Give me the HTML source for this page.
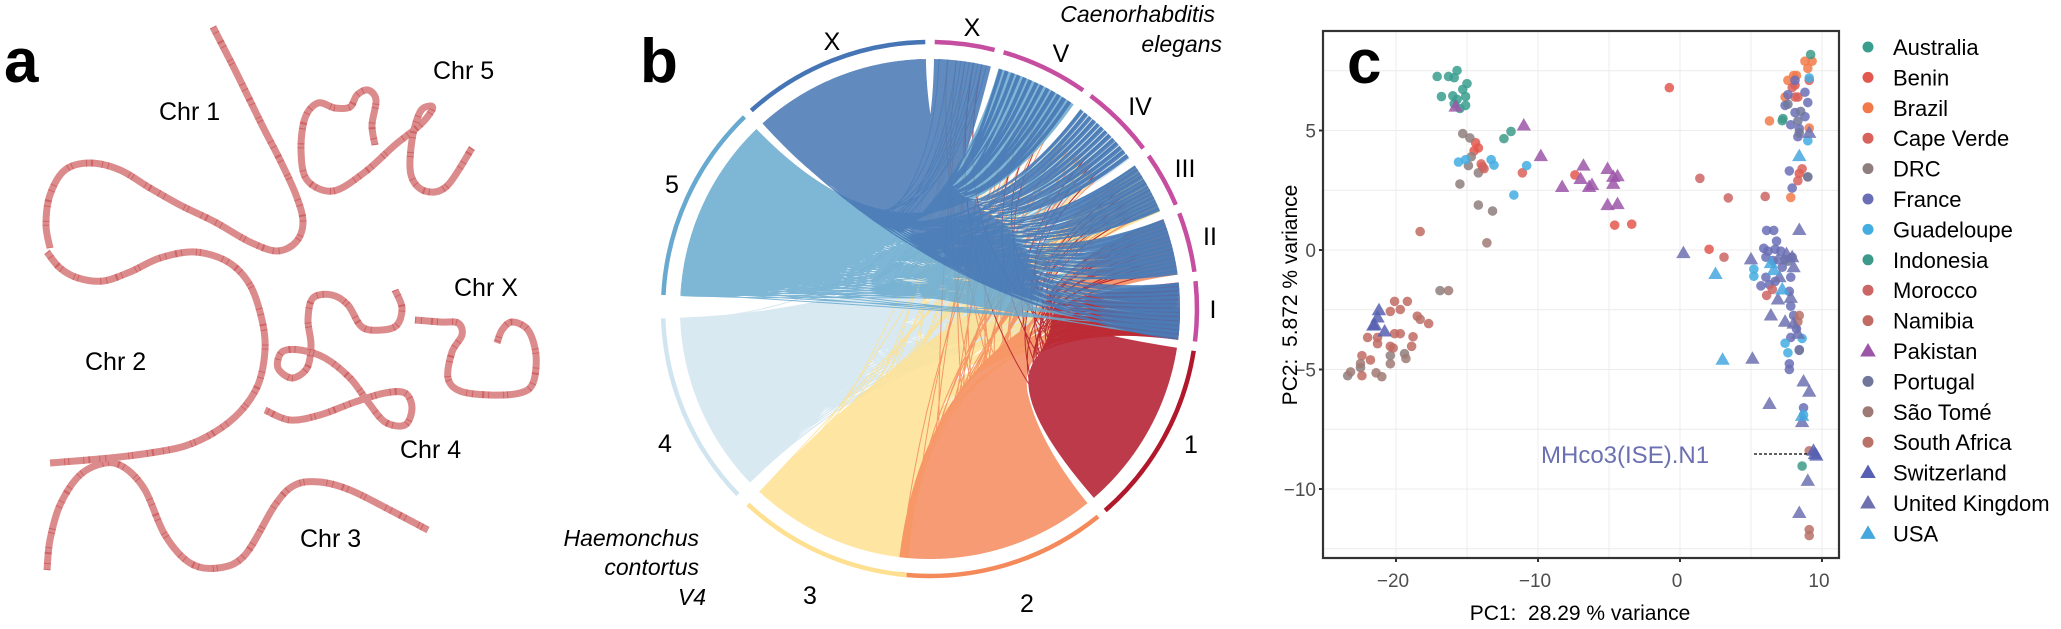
<!DOCTYPE html>
<html><head><meta charset="utf-8">
<style>
html,body{margin:0;padding:0;background:#fff;}
svg{display:block;font-family:"Liberation Sans",Arial,sans-serif;}
</style></head>
<body>
<svg id="fig" width="2061" height="629" viewBox="0 0 2061 629" xmlns="http://www.w3.org/2000/svg">
<rect width="2061" height="629" fill="#fff"/>
<!-- Panel a -->
<g id="panelA">
  <text x="4" y="82" font-size="62" font-weight="bold">a</text>
  <text x="159" y="120" font-size="25">Chr 1</text>
  <text x="433" y="79" font-size="25">Chr 5</text>
  <text x="454" y="296" font-size="25">Chr X</text>
  <text x="85" y="370" font-size="25">Chr 2</text>
  <text x="400" y="458" font-size="25">Chr 4</text>
  <text x="300" y="547" font-size="25">Chr 3</text>
</g>
<!-- Panel b -->
<g id="panelB">
  <g id="chords"></g>
  <g id="rings"></g>
  <text x="640" y="82" font-size="62" font-weight="bold">b</text>
  <text x="1215" y="22" font-size="23" font-style="italic" text-anchor="end">Caenorhabditis</text>
  <text x="1222" y="52" font-size="23" font-style="italic" text-anchor="end">elegans</text>
  <text x="699" y="546" font-size="23" font-style="italic" text-anchor="end">Haemonchus</text>
  <text x="699" y="575" font-size="23" font-style="italic" text-anchor="end">contortus</text>
  <text x="706" y="605" font-size="23" font-style="italic" text-anchor="end">V4</text>
</g>
<!-- Panel c -->
<g id="panelC">
  <g id="grid"></g>
  <g id="points"></g>
  <rect x="1323" y="31" width="516" height="527" fill="none" stroke="#333" stroke-width="2.2"/>
  <g id="ticks"></g>
  <text x="1347" y="83" font-size="62" font-weight="bold">c</text>
  <text x="1580" y="620" font-size="21" text-anchor="middle">PC1:&#160; 28.29 % variance</text>
  <text transform="translate(1297,295) rotate(-90)" font-size="21" text-anchor="middle">PC2:&#160; 5.872 % variance</text>
  <text x="1541" y="463" font-size="24" fill="#6b70b0">MHco3(ISE).N1</text>
  <line x1="1754" y1="454" x2="1808" y2="454" stroke="#000" stroke-width="1.3" stroke-dasharray="3 2"/>
  <g id="legend"></g>
</g>
</svg>
<script>
// ---------- Panel a: chromosome paths ----------
const chrPoints = {
  chr1: [[213,27],[235,70],[262,125],[280,160],[296,195],[303,222],[296,242],[277,251],[250,242],[215,222],[180,205],[150,188],[120,170],[90,163],[65,170],[50,195],[46,225],[50,248]],
  chr2: [[47,252],[60,268],[78,278],[103,281],[130,272],[160,258],[195,252],[228,262],[250,285],[262,320],[265,350],[258,385],[240,412],[215,432],[185,446],[150,453],[110,458],[50,463]],
  chr3: [[47,570],[50,540],[60,505],[80,475],[105,463],[125,468],[145,490],[165,535],[190,563],[218,568],[245,555],[275,505],[295,485],[320,482],[350,490],[390,510],[428,530]],
  chr5: [[375,145],[372,125],[376,100],[368,90],[357,95],[350,107],[335,108],[318,103],[305,118],[301,150],[307,180],[333,191],[365,172],[395,145],[420,125],[432,110],[430,106],[420,112],[412,140],[411,175],[425,191],[447,186],[472,148]],
  chr4: [[395,290],[402,308],[397,325],[382,330],[362,327],[348,305],[332,295],[313,298],[308,320],[311,345],[307,368],[292,378],[278,368],[282,352],[300,350],[325,358],[350,378],[368,402],[385,422],[405,425],[412,408],[405,393],[385,393],[355,402],[320,415],[290,420],[265,410]],
  chrX: [[415,320],[440,322],[458,323],[462,335],[452,352],[448,378],[460,391],[490,395],[520,393],[533,383],[536,355],[528,330],[512,322],[502,330],[497,343]]
};
const NS='http://www.w3.org/2000/svg';
function smooth(p){
  let d='M'+p[0][0]+','+p[0][1];
  for(let i=0;i<p.length-1;i++){
    const p0=p[Math.max(0,i-1)],p1=p[i],p2=p[i+1],p3=p[Math.min(p.length-1,i+2)];
    const c1=[p1[0]+(p2[0]-p0[0])/6,p1[1]+(p2[1]-p0[1])/6];
    const c2=[p2[0]-(p3[0]-p1[0])/6,p2[1]-(p3[1]-p1[1])/6];
    d+=' C'+c1[0].toFixed(1)+','+c1[1].toFixed(1)+' '+c2[0].toFixed(1)+','+c2[1].toFixed(1)+' '+p2[0]+','+p2[1];
  }
  return d;
}
const gA=document.getElementById('panelA');
for(const k in chrPoints){
  const d=smooth(chrPoints[k]);
  const base=document.createElementNS(NS,'path');
  base.setAttribute('d',d);base.setAttribute('fill','none');base.setAttribute('stroke','#db8b8b');base.setAttribute('stroke-width','7');base.setAttribute('stroke-linecap','butt');
  
  
  gA.insertBefore(base,gA.firstChild);
  const tex=document.createElementNS(NS,'path');
  tex.setAttribute('d',d);tex.setAttribute('fill','none');tex.setAttribute('stroke','#c0323a');tex.setAttribute('stroke-width','7');tex.setAttribute('opacity','0.45');
  tex.setAttribute('stroke-dasharray','1 5 1 9 2 4 1 14 1 3 1 22');
  
  
  gA.insertBefore(tex,base.nextSibling);
}

// ---------- Panel b: circos ----------
const cx=930, cy=309, rRing=267, rChord=250;
const hcNames=['1','2','3','4','5','X'];
const hcStart=[99,141,-175,-134,-87,-42];
const hcEnd=[139,187,-137,-92,-44,-1];
const hcColors=['#b2182b','#f4895a','#fee090','#d1e5f0','#67a9cf','#4575b4'];
const ceNames=['I','II','III','IV','V','X'];
const ceStart=[84,69,55,37,16,1];
const ceEnd=[97,82,67,53,35,14];
// chord counts: rows H. contortus 1..X, cols C. elegans I..X
const chordCounts=[
  [420,15,5,3,3,2],
  [120,280,20,10,10,5],
  [60,40,260,20,10,5],
  [100,80,40,200,20,5],
  [80,80,60,60,250,10],
  [200,180,120,100,80,300]
];
const hcLabelPos=[[1191,453],[1027,612],[810,604],[665,452],[672,193],[832,50]];
const ceLabelPos=[[1213,318],[1210,245],[1185,177],[1140,115],[1061,62],[972,36]];
function pt(a,r){const t=a*Math.PI/180;return [cx+r*Math.sin(t),cy-r*Math.cos(t)];}
function arc(a0,a1,r){const p0=pt(a0,r),p1=pt(a1,r);const large=(a1-a0)>180?1:0;return 'M'+p0[0].toFixed(1)+','+p0[1].toFixed(1)+' A'+r+','+r+' 0 '+large+' 1 '+p1[0].toFixed(1)+','+p1[1].toFixed(1);}
const gR=document.getElementById('rings');
const gB=document.getElementById('panelB');
hcNames.forEach((n,i)=>{
  const p=document.createElementNS(NS,'path');
  p.setAttribute('d',arc(hcStart[i],hcEnd[i],rRing));p.setAttribute('fill','none');p.setAttribute('stroke',hcColors[i]);p.setAttribute('stroke-width','4.5');
  
  
  gR.appendChild(p);
  const t=document.createElementNS(NS,'text');
  t.setAttribute('x',hcLabelPos[i][0]);t.setAttribute('y',hcLabelPos[i][1]);t.setAttribute('font-size','25');t.setAttribute('text-anchor','middle');t.textContent=n;
  
  
  gB.appendChild(t);
});
ceNames.forEach((n,i)=>{
  const p=document.createElementNS(NS,'path');
  p.setAttribute('d',arc(ceStart[i],ceEnd[i],rRing));p.setAttribute('fill','none');p.setAttribute('stroke','#c54ea1');p.setAttribute('stroke-width','4.5');
  
  
  gR.appendChild(p);
  const t=document.createElementNS(NS,'text');
  t.setAttribute('x',ceLabelPos[i][0]);t.setAttribute('y',ceLabelPos[i][1]);t.setAttribute('font-size','25');t.setAttribute('text-anchor','middle');t.textContent=n;
  
  
  gB.appendChild(t);
});
const gC=document.getElementById('chords');
const drawOrder=[3,2,1,0,4,5];
const G=0.6180339;
drawOrder.forEach(i=>{
  const row=chordCounts[i];
  let parts=[];
  let j=0;
  row.forEach((cnt,c)=>{
    for(let k=0;k<cnt;k++){
      let sF,tF;
      if(c===i){ sF=(k+0.5)/cnt; tF=(k+0.5)/cnt; }
      else { sF=((j+1)*G)%1; tF=((k+1)*G*1.37)%1; }
      j++;
      const a0=hcStart[i]+sF*(hcEnd[i]-hcStart[i]);
      const a1=ceStart[c]+tF*(ceEnd[c]-ceStart[c]);
      const p0=pt(a0,rChord),p1=pt(a1,rChord);
      parts.push('M'+p0[0].toFixed(1)+','+p0[1].toFixed(1)+' Q'+cx+','+cy+' '+p1[0].toFixed(1)+','+p1[1].toFixed(1));
    }
  });
  const p=document.createElementNS(NS,'path');
  p.setAttribute('d',parts.join(' '));p.setAttribute('fill','none');p.setAttribute('stroke',hcColors[i]);
  p.setAttribute('stroke-width','1');p.setAttribute('stroke-opacity','0.85');
  
  
  gC.appendChild(p);
});

// ---------- Panel c: PCA ----------
const countries=['Australia','Benin','Brazil','Cape Verde','DRC','France','Guadeloupe','Indonesia','Morocco','Namibia','Pakistan','Portugal','São Tomé','South Africa','Switzerland','United Kingdom','USA'];
const colors=['#3a9e8f','#e3584e','#f27a4a','#d8625c','#8f7e7e','#6a6eb6','#43ade2','#3d9a8a','#cc6564','#c16b63','#9c56a8','#71779b','#9f7a74','#b97268','#5760b2','#6d71b0','#45a7de'];
const shapes=['c','c','c','c','c','c','c','c','c','c','t','c','c','c','t','t','t'];
const pcX=[
 [-17.1,-16.3,-15.7,-15.9,-15.0,-15.3,-16.8,-16.0,-15.1,-15.9,-15.1,-15.5,-15.7],
 [-14.4,-14.2,-14.5,-13.9,-7.4,-4.6,-3.4,-0.75,2.05,8.1,8.3,8.4],
 [7.6,8.2,8.8,9.3,9.0,6.3,7.8,7.4,9.1,8.0],
 [-11.1,8.1,8.3,8.6,9.1,7.9,-14.0],
 [-15.3,-14.8,-14.7,-14.9,-14.2,-15.5,-14.2,-13.2,-16.9,9.0,-23.4,-22.5,-20.4,-19.4],
 [6.1,6.6,6.8,5.9,6.2,6.7,7.1,6.05,6.55,7.4,7.2,6.05,6.7,7.8,5.7,6.3,7.7,7.8,8.0,8.2,7.8,8.4,7.7,7.7,8.7,8.1,8.8,7.6,7.4,9.0,8.1,8.8,7.8,8.4,8.3,7.7,7.9],
 [-15.6,-15.1,-13.3,-13.1,-10.8,-11.7,9.0,9.1,5.2,5.2,7.4,7.6,8.6,8.7],
 [-12.4,-11.9,7.25,7.2,9.2,8.6],
 [1.4,3.4,6.0,3.1,6.5,6.1,-13.8],
 [-20.1,-19.2,-20.4,-19.7,-18.5,-17.7,-22.0,-21.3,-20.1,-19.7,-18.8,-21.3,-20.4,-18.9,-22.4,-21.8,-22.4,-20.2,-18.3],
 [-15.8,-11.0,-9.8,-8.3,-6.8,-7.0,-6.4,-6.2,-5.1,-4.7,-4.4,-4.7,-5.1,-4.4],
 [8.4,8.3,9.0,7.9,7.6,8.4,8.5,7.6],
 [-23.2,-22.5,-21.4,-21.0,-20.4,-19.3,-16.3,-13.6],
 [8.4,8.3,9.1,9.1,9.1,-18.3],
 [-21.2,-21.3,-21.5,-20.8,-21.6,9.5,9.6,9.4],
 [0.24,5.0,8.4,7.5,7.9,6.9,8.0,7.0,6.9,7.8,6.4,7.4,8.0,8.3,5.1,6.3,8.7,9.1,9.0,8.4,8.6,9.1],
 [2.5,3.0,8.4,6.6,7.2,8.6,6.4]
];
const pcY=[
 [7.26,7.26,7.51,7.21,6.96,6.72,6.42,6.45,6.42,6.12,6.05,5.92,6.3],
 [4.49,4.27,4.15,3.48,3.14,1.04,1.08,6.79,0.03,6.9,6.4,3.2],
 [7.1,7.3,7.9,7.9,7.6,5.4,2.2,6.4,5.1,7.3],
 [3.23,6.4,2.9,3.4,7.1,6.8,3.6],
 [4.87,4.69,3.9,3.53,3.23,2.76,1.88,1.63,-1.7,3.06,-5.26,-4.92,-4.42,-4.34],
 [0.82,0.82,0.37,0.07,-0.05,0.03,-0.05,-0.3,-0.44,-0.39,-0.72,-1.14,-1.31,-1.14,-1.5,-1.45,-1.73,-2.35,-2.74,-3.3,-3.66,-4.17,-4.76,-5.0,-6.6,7.1,6.6,6.5,6.05,6.17,5.75,5.58,5.24,5.08,4.74,3.31,2.59],
 [3.68,3.78,3.78,3.55,3.53,2.3,4.57,7.2,-0.8,-1.1,-3.9,-4.3,-3.7,-6.9],
 [4.66,4.96,5.5,5.41,8.18,-9.04],
 [3.0,2.18,2.24,-0.3,-1.65,-1.9,3.4],
 [-2.15,-2.15,-2.57,-2.49,-2.77,-3.08,-3.66,-3.66,-3.5,-3.5,-3.63,-3.92,-4.03,-4.03,-4.42,-4.6,-5.26,-4.1,0.77],
 [6.0,5.21,3.93,2.64,3.53,2.97,2.64,2.72,3.39,3.06,3.09,2.77,1.88,1.92],
 [4.9,5.4,3.06,-0.3,-0.47,-4.2,5.8,6.1],
 [-5.1,-4.75,-5.14,-5.3,-4.76,-4.54,-1.7,0.3],
 [-2.74,-3.0,-11.7,-11.95,-8.4,-2.9],
 [-2.52,-2.82,-3.13,-3.41,-3.16,-8.54,-8.6,-8.4],
 [-0.13,-0.39,0.84,-0.17,-0.3,-0.39,-0.72,-1.14,-2.07,-2.0,-2.74,-3.0,-3.08,-3.5,-4.55,-6.44,-5.5,-5.93,-9.66,-11.0,-7.2,4.9],
 [-1.0,-4.59,3.93,-0.84,-1.65,-6.94,-0.55]
];
const xTicks=[-20,-10,0,10];
const yTicks=[5,0,-5,-10];
const xMinor=[-15,-5,5];
const yMinor=[7.5,2.5,-2.5,-7.5,-12.5];
const X=v=>1680+14.2*v;
const Y=v=>250-23.9*v;
const L=1323,R=1839,T=31,B=558;
const gG=document.getElementById('grid'), gT=document.getElementById('ticks'), gP=document.getElementById('points'), gL=document.getElementById('legend');
function mk(tag,attrs,parent){const e=document.createElementNS(NS,tag);for(const k in attrs)e.setAttribute(k,attrs[k]);parent.appendChild(e);return e;}
xTicks.concat(xMinor).forEach(v=>{
  const l=mk('line',{x1:X(v),x2:X(v),y1:T,y2:B,stroke:'#ececec','stroke-width':1},gG);
  
  
});
yTicks.concat(yMinor).forEach(v=>{
  const l=mk('line',{x1:L,x2:R,y1:Y(v),y2:Y(v),stroke:'#ececec','stroke-width':1},gG);
  
  
});
xTicks.forEach(v=>{
  const tk=mk('line',{x1:X(v),x2:X(v),y1:B,y2:B+4,stroke:'#333','stroke-width':2},gT);
  
  
  const t=mk('text',{x:X(v)-3,y:B+29,'font-size':19,fill:'#4d4d4d','text-anchor':'middle'},gT);
  t.textContent=(v<0?'\u2212'+(-v):String(v));
  
  
});
yTicks.forEach(v=>{
  const tk=mk('line',{x1:L-4,x2:L,y1:Y(v),y2:Y(v),stroke:'#333','stroke-width':2},gT);
  
  
  const t=mk('text',{x:L-7,y:Y(v)+7,'font-size':19,fill:'#4d4d4d','text-anchor':'end'},gT);
  t.textContent=(v<0?'\u2212'+(-v):String(v));
  
  
});
function tri(x,y,s){return (x)+','+(y-s*0.62)+' '+(x-s*0.6)+','+(y+s*0.42)+' '+(x+s*0.6)+','+(y+s*0.42);}
countries.forEach((c,i)=>{
  pcX[i].forEach((vx,k)=>{
    const px=X(vx), py=Y(pcY[i][k]);
    let e;
    if(shapes[i]==='t') e=mk('polygon',{points:tri(px,py,12),fill:colors[i],'fill-opacity':0.85},gP);
    else e=mk('circle',{cx:px,cy:py,r:4.8,fill:colors[i],'fill-opacity':0.85},gP);
    
    
  });
  const ly=47+30.4*i;
  let s;
  if(shapes[i]==='t') s=mk('polygon',{points:tri(1868,ly,13),fill:colors[i]},gL);
  else s=mk('circle',{cx:1868,cy:ly,r:5.5,fill:colors[i]},gL);
  
  
  const t=mk('text',{x:1893,y:ly+8,'font-size':22,fill:'#000'},gL);
  t.textContent=c;
  
  
});
</script>
</body></html>
